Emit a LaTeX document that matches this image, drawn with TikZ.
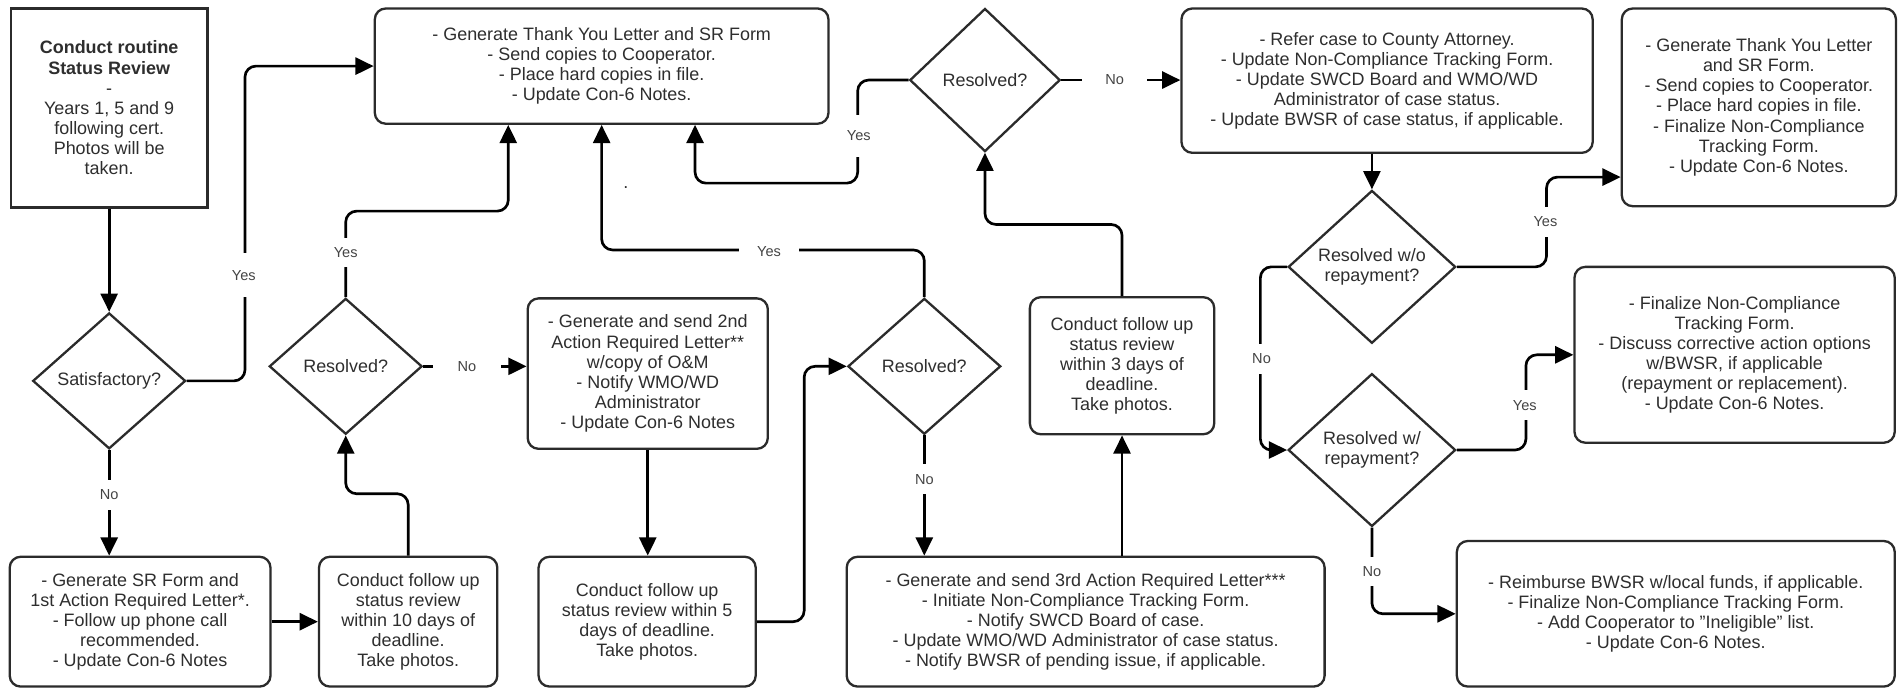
\documentclass[tikz,border=0pt]{standalone}
\usepackage{fontspec}
\setmainfont{Liberation Sans}
\usetikzlibrary{shapes.geometric,arrows.meta}
\definecolor{txt}{HTML}{2E2E2E}
\definecolor{bord}{HTML}{2B2B2B}
\definecolor{lblc}{HTML}{444444}
\newcommand{\mainf}{\fontsize{14.8}{16.6}\selectfont}
\newcommand{\lblf}{\fontsize{12}{14}\selectfont}
\begin{document}
\begin{tikzpicture}[x=1pt,y=-1pt,
  box/.style={draw=bord, line width=1.9pt, rounded corners=9pt, align=center, font=\mainf, text=txt, inner sep=0pt},
  sqbox/.style={box, rounded corners=0pt},
  dia/.style={diamond, draw=bord, line width=1.9pt, align=center, font=\mainf, text=txt, inner sep=0pt},
  conn/.style={draw=black, line width=2.2pt, rounded corners=9pt, -{Triangle[length=15pt,width=14pt]}},
  labv/.style={fill=white, font=\lblf, text=lblc, inner xsep=3pt, inner ysep=8pt},
  labh/.style={fill=white, font=\lblf, text=lblc, inner xsep=19pt, inner ysep=3pt}
]
\fill[white] (0,0) rectangle (1568,567);
\useasboundingbox (0,0) rectangle (1568,567);

% helper coordinates
\coordinate (c419) at (419,0);
\coordinate (c496) at (496,0);
\coordinate (c573) at (573,0);
\coordinate (c146) at (0,146);

% boxes
\node[sqbox, minimum width=162pt, minimum height=164pt] (S) at (90,89)
  {\textbf{Conduct routine}\\\textbf{Status Review}\\-\\Years 1, 5 and 9\\following cert.\\Photos will be\\taken.};
\node[box, minimum width=374pt, minimum height=95pt] (TY) at (496,54.5)
  {- Generate Thank You Letter and SR Form\\- Send copies to Cooperator.\\- Place hard copies in file.\\- Update Con-6 Notes.};
\node[box, minimum width=215pt, minimum height=107pt] (SR1) at (115.5,512.5)
  {- Generate SR Form and\\1st Action Required Letter*.\\- Follow up phone call\\recommended.\\- Update Con-6 Notes};
\node[box, minimum width=147pt, minimum height=107pt] (FU10) at (336.5,512.5)
  {Conduct follow up\\status review\\within 10 days of\\deadline.\\Take photos.};
\node[box, minimum width=198pt, minimum height=124pt] (AR2) at (534,308)
  {- Generate and send 2nd\\Action Required Letter**\\w/copy of O\&M\\- Notify WMO/WD\\Administrator\\- Update Con-6 Notes};
\node[box, minimum width=179pt, minimum height=107pt] (FU5) at (533.5,512.5)
  {Conduct follow up\\status review within 5\\days of deadline.\\Take photos.};
\node[box, minimum width=394pt, minimum height=107pt] (AR3) at (895,512.5)
  {- Generate and send 3rd Action Required Letter***\\- Initiate Non-Compliance Tracking Form.\\- Notify SWCD Board of case.\\- Update WMO/WD Administrator of case status.\\- Notify BWSR of pending issue, if applicable.};
\node[box, minimum width=152pt, minimum height=113pt] (FU3) at (925,301.5)
  {Conduct follow up\\status review\\within 3 days of\\deadline.\\Take photos.};
\node[box, minimum width=339pt, minimum height=119pt] (R) at (1143.5,66.5)
  {- Refer case to County Attorney.\\- Update Non-Compliance Tracking Form.\\- Update SWCD Board and WMO/WD\\Administrator of case status.\\- Update BWSR of case status, if applicable.};
\node[box, minimum width=226pt, minimum height=163pt] (TY2) at (1450,88.5)
  {- Generate Thank You Letter\\and SR Form.\\- Send copies to Cooperator.\\- Place hard copies in file.\\- Finalize Non-Compliance\\Tracking Form.\\- Update Con-6 Notes.};
\node[box, minimum width=264pt, minimum height=145pt] (FN) at (1430,292.5)
  {- Finalize Non-Compliance\\Tracking Form.\\- Discuss corrective action options\\w/BWSR, if applicable\\(repayment or replacement).\\- Update Con-6 Notes.};
\node[box, minimum width=361pt, minimum height=120pt] (RB) at (1381.5,506)
  {- Reimburse BWSR w/local funds, if applicable.\\- Finalize Non-Compliance Tracking Form.\\- Add Cooperator to "Ineligible" list.\\- Update Con-6 Notes.};

% decisions
\node[dia, minimum width=126pt, minimum height=112pt] (D1) at (90,314) {Satisfactory?};
\node[dia, minimum width=126pt, minimum height=112pt] (D2) at (285,302) {Resolved?};
\node[dia, minimum width=126pt, minimum height=112pt] (D3) at (762,302) {Resolved?};
\node[dia, minimum width=124pt, minimum height=118pt] (D4) at (812,66) {Resolved?};
\node[dia, minimum width=138pt, minimum height=126pt] (D5) at (1131,220) {Resolved w/o\\repayment?};
\node[dia, minimum width=138pt, minimum height=126pt] (D6) at (1131,371) {Resolved w/\\repayment?};

% stray dot
\node[font=\mainf, text=txt, inner sep=0pt] (dot) at (516,155) {.};

% connectors
\draw[conn] (S.south) -- (D1.north);
\draw[conn] (D1.east) -- ++(48,0) |- (TY.west);
\draw[conn] (D1.south) -- (D1.south |- SR1.north);
\draw[conn] (SR1.east) -- (FU10.west);
\draw[conn] (FU10.north) -- ++(0,-51) -| (D2.south);
\draw[conn] (D2.north) -- ++(0,-71) -| (TY.south -| c419);
\draw[conn] (D2.east) -- (AR2.west |- D2.east);
\draw[conn] (AR2.south) -- (AR2.south |- FU5.north);
\draw[conn] (FU5.east) -- ++(39,0) |- (D3.west);
\draw[conn] (D3.north) -- ++(0,-39) -| (TY.south -| c496);
\draw[conn] (D3.south) -- (D3.south |- AR3.north);
\draw[conn] (AR3.north -| FU3.south) -- (FU3.south);
\draw[conn] (FU3.north) -- ++(0,-59) -| (D4.south);
\draw[conn] (D4.west) -- ++(-42,0) -- ++(0,85) -| (TY.south -| c573);
\draw[conn] (D4.east) -- (R.west |- D4.east);
\draw[conn] (R.south -| D5.north) -- (D5.north);
\draw[conn] (D5.east) -- ++(74,0) |- (TY2.west |- c146);
\draw[conn] (D5.west) -- ++(-22,0) |- (D6.west);
\draw[conn] (D6.east) -- ++(57,0) |- (FN.west);
\draw[conn] (D6.south) |- (RB.west);

% labels
\node[labv, inner ysep=14pt] (l1) at (201,227) {Yes};
\node[labv] (l2) at (90,408) {No};
\node[labv] (l3) at (285,208) {Yes};
\node[labh, inner xsep=20pt] (l4) at (385,302) {No};
\node[labh, inner xsep=15pt] (l5) at (634,207) {Yes};
\node[labv] (l6) at (762,395) {No};
\node[labv, inner ysep=13pt] (l7) at (708,112) {Yes};
\node[labh] (l8) at (919,66) {No};
\node[labv] (l9) at (1274,183) {Yes};
\node[labv] (l10) at (1040,296) {No};
\node[labv] (l11) at (1257,334) {Yes};
\node[labv] (l12) at (1131,471) {No};
\end{tikzpicture}
\end{document}
